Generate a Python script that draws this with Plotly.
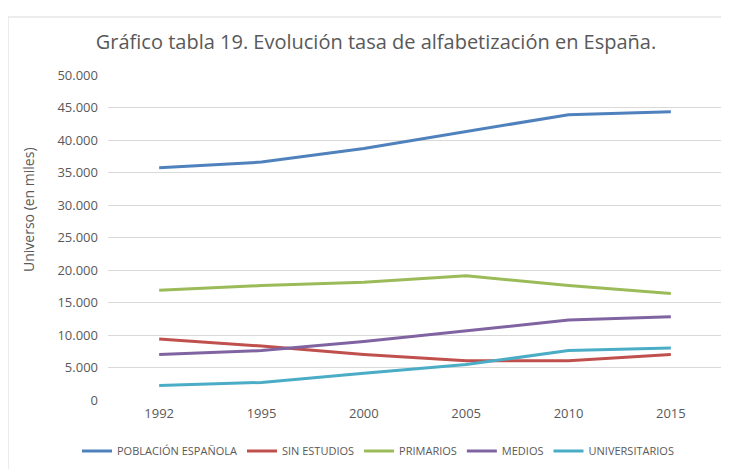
import plotly.graph_objects as go

years = ["1992", "1995", "2000", "2005", "2010", "2015"]
poblacion = [35750, 36600, 38700, 41300, 43900, 44350]
sin_estudios = [9400, 8300, 7000, 6050, 6050, 7000]
primarios = [16900, 17600, 18100, 19100, 17600, 16400]
medios = [7000, 7600, 9000, 10700, 12300, 12800]
universitarios = [2250, 2700, 4100, 5450, 7600, 8000]
y_ticks = [0, 5000, 10000, 15000, 20000, 25000, 30000, 35000, 40000, 45000, 50000]
y_tick_labels = ["0", "5.000", "10.000", "15.000", "20.000", "25.000",
                 "30.000", "35.000", "40.000", "45.000", "50.000"]

series = [
    ("POBLACIÓN ESPAÑOLA", poblacion, "#4F81BD"),
    ("SIN ESTUDIOS", sin_estudios, "#C0504D"),
    ("PRIMARIOS", primarios, "#9BBB59"),
    ("MEDIOS", medios, "#8064A2"),
    ("UNIVERSITARIOS", universitarios, "#4BACC6"),
]

fig = go.Figure()
for name, vals, color in series:
    fig.add_trace(go.Scatter(x=years, y=vals, name=name, mode="lines",
                             line=dict(color=color, width=3)))

# page body adds an 8px offset; work in window pixels and shift
OFF = 8
W, H = 729 - OFF, 469 - OFF
L, R, T, B = 108 - OFF, 7, 75 - OFF, 469 - 400
pw, ph = W - L - R, H - T - B

def px_x(p):
    return (p - OFF - L) / pw

def px_y(p):
    return (H - B - (p - OFF)) / ph

fig.update_layout(
    width=W, height=H,
    margin=dict(l=L, r=R, t=T, b=B, autoexpand=False),
    paper_bgcolor="white", plot_bgcolor="white",
    font=dict(family="Open Sans", color="#595959"),
    title=dict(text="Gráfico tabla 19. Evolución tasa de alfabetización en España.",
               x=(376 - OFF) / W, xanchor="center", y=1 - (42 - OFF) / H, yanchor="middle",
               font=dict(size=20, color="#595959", family="Open Sans")),
    xaxis=dict(type="category", range=[-0.5, 5.5], showgrid=False, zeroline=False,
               showline=False, ticks="", tickfont=dict(size=13, color="#595959"),
               ticklabelstandoff=4),
    yaxis=dict(range=[0, 50000], tickmode="array", tickvals=y_ticks, ticktext=y_tick_labels,
               showgrid=True, gridcolor="#D9D9D9", gridwidth=1, zeroline=False, showline=False,
               ticks="", tickfont=dict(size=13, color="#595959"), ticklabelstandoff=9),
    showlegend=True,
    legend=dict(orientation="h", x=px_x(378), xanchor="center",
                y=px_y(451), yanchor="middle",
                font=dict(size=11, color="#595959"),
                tracegroupgap=0),
    shapes=[dict(type="rect", xref="paper", yref="paper",
                 x0=px_x(8), x1=px_x(740), y0=px_y(480), y1=px_y(17),
                 line=dict(color="#D9D9D9", width=1), fillcolor="rgba(0,0,0,0)",
                 layer="below")],
    annotations=[dict(text="Universo (en miles)", textangle=-90, xref="paper", yref="paper",
                      x=px_x(28), y=px_y(210), showarrow=False, xanchor="center",
                      yanchor="middle", font=dict(size=14, color="#595959"))],
)

fig.write_html("out.html")
